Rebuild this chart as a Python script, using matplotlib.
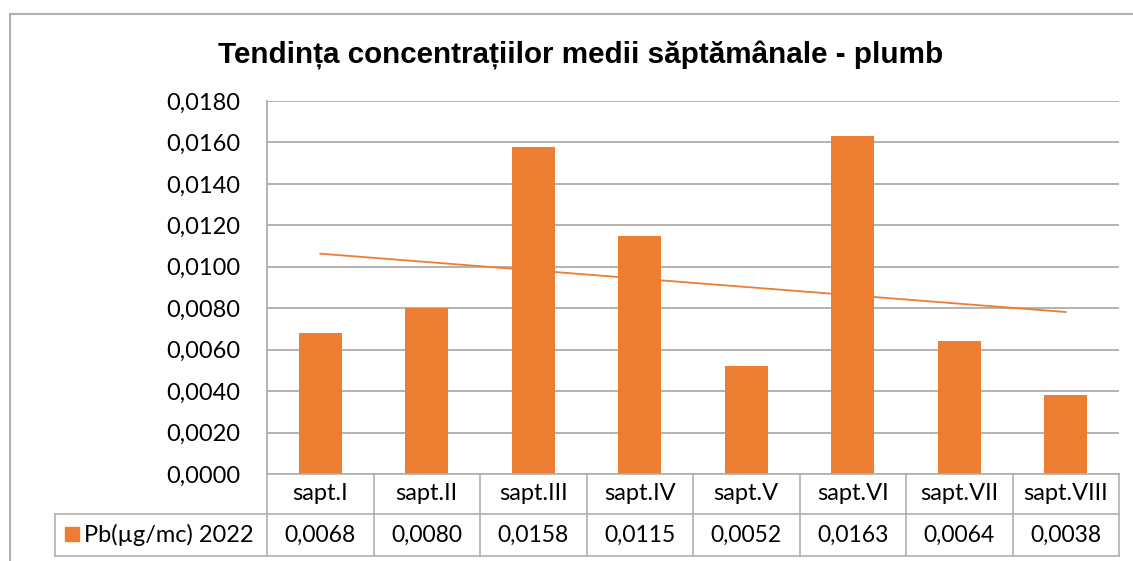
import numpy as np
import matplotlib
matplotlib.use("Agg")
import matplotlib.pyplot as plt
from matplotlib.lines import Line2D
from matplotlib.patches import Rectangle
import matplotlib.transforms as mtransforms

categories = ["sapt.I", "sapt.II", "sapt.III", "sapt.IV", "sapt.V", "sapt.VI", "sapt.VII", "sapt.VIII"]
values = [0.0068, 0.0080, 0.0158, 0.0115, 0.0052, 0.0163, 0.0064, 0.0038]
series_name = "Pb(µg/mc) 2022"
title = "Tendința concentrațiilor medii săptămânale - plumb"
yticks = [0.0, 0.002, 0.004, 0.006, 0.008, 0.010, 0.012, 0.014, 0.016, 0.018]

ORANGE = "#ED7D31"
GRID = "#A6A6A6"
BORDER = "#B0B0B0"
FONT = "Lato"

W, H = 1133, 561
fig = plt.figure(figsize=(W / 100, H / 100), dpi=100)
ax = fig.add_axes([267 / W, 1 - 474 / H, (1119 - 267) / W, (474 - 101) / H])

x = np.arange(len(categories))
ax.bar(x, values, width=0.40, color=ORANGE, zorder=3)

# linear trendline
coef = np.polyfit(x, values, 1)
ax.plot(x[[0, -1]], np.polyval(coef, x[[0, -1]]), color=ORANGE, lw=1.3, zorder=4)

ax.set_xlim(-0.5, len(categories) - 0.5)
ax.set_ylim(0, 0.018)
ax.set_yticks(yticks)
ax.set_yticklabels([f"{v:.4f}".replace(".", ",") for v in yticks], fontfamily=FONT, fontsize=17)
ax.tick_params(axis="y", length=0, pad=19)
ax.set_xticks([])
ax.grid(axis="y", color=GRID, lw=1.2, zorder=0)
for s in ["top", "right", "bottom"]:
    ax.spines[s].set_visible(False)
ax.spines["left"].set_color(GRID)
ax.spines["left"].set_linewidth(1.2)

# data table
trans = mtransforms.blended_transform_factory(ax.transData, ax.transAxes)
ph = 474 - 101
r1 = -(514 - 474) / ph
r2 = -(556 - 474) / ph
n = len(categories)
kw = dict(color=BORDER, lw=1.2, clip_on=False, zorder=5)
ax.add_line(Line2D([-0.5, n - 0.5], [0, 0], transform=trans, **kw))
ax.add_line(Line2D([-0.5, n - 0.5], [r1, r1], transform=trans, **kw))
ax.add_line(Line2D([-0.5, n - 0.5], [r2, r2], transform=trans, **kw))
for b in np.arange(n + 1) - 0.5:
    ax.add_line(Line2D([b, b], [0, r2], transform=trans, **kw))
axt = ax.transAxes
lx = (55 - 267) / (1119 - 267)
ax.add_line(Line2D([lx, 0], [r1, r1], transform=axt, **kw))
ax.add_line(Line2D([lx, 0], [r2, r2], transform=axt, **kw))
ax.add_line(Line2D([lx, lx], [r1, r2], transform=axt, **kw))

for i, (c, v) in enumerate(zip(categories, values)):
    ax.text(i, r1 / 2, c, transform=trans, ha="center", va="center",
            fontfamily=FONT, fontsize=17, clip_on=False)
    ax.text(i, (r1 + r2) / 2, f"{v:.4f}".replace(".", ","), transform=trans,
            ha="center", va="center", fontfamily=FONT, fontsize=16.5, clip_on=False)

fig.patches.append(Rectangle((65 / W, 1 - 541 / H), 14 / W, 14 / H,
                             transform=fig.transFigure, color=ORANGE))
fig.text(84 / W, 1 - 535 / H, series_name, ha="left", va="center",
         fontfamily=FONT, fontsize=17)

fig.text(581 / W, 1 - 63 / H, title, ha="center", va="baseline",
         fontfamily="Liberation Sans", fontweight="bold", fontsize=21.3)

fig.lines.append(Line2D([10 / W, 10 / W], [0, 1 - 14 / H], transform=fig.transFigure, color=BORDER, lw=1.5))
fig.lines.append(Line2D([10 / W, 1], [1 - 14 / H, 1 - 14 / H], transform=fig.transFigure, color=BORDER, lw=1.5))

fig.savefig("out.png", dpi=100)
